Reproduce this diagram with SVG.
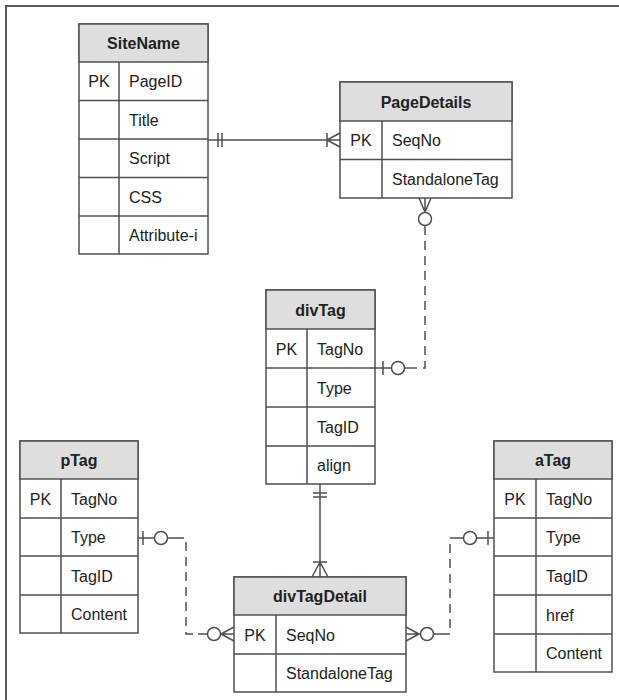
<svg xmlns="http://www.w3.org/2000/svg" width="619" height="700" viewBox="0 0 619 700">
<style>
.box{fill:#fff;stroke:#505050;stroke-width:1.5}
.hdr{fill:#dedede;stroke:#505050;stroke-width:1.5}
.ln{stroke:#505050;stroke-width:1.5;fill:none}
.dash{stroke:#505050;stroke-width:1.5;fill:none;stroke-dasharray:9 6}
.circ{fill:#fff;stroke:#505050;stroke-width:1.5}
.t{font-family:"Liberation Sans",Arial,sans-serif;font-size:16px;fill:#222}
.h{font-family:"Liberation Sans",Arial,sans-serif;font-size:16px;font-weight:bold;fill:#222;text-anchor:middle}
.c{text-anchor:middle}
</style>
<rect width="619" height="700" fill="#fff"/>
<path d="M6,700 V6 H619" fill="none" stroke="#5a5a5a" stroke-width="2"/>

<g id="SiteName">
<rect class="box" x="79" y="24" width="129" height="230"/>
<rect class="hdr" x="79" y="24" width="129" height="38"/>
<path class="ln" d="M79,100.5H208M79,139H208M79,177.5H208M79,216H208M119,62V254"/>
<text class="h" x="143.5" y="49">SiteName</text>
<text class="t c" x="99" y="87">PK</text>
<text class="t" x="129" y="87">PageID</text>
<text class="t" x="129" y="125.5">Title</text>
<text class="t" x="129" y="164">Script</text>
<text class="t" x="129" y="202.5">CSS</text>
<text class="t" x="129" y="241">Attribute-i</text>
</g>

<g id="PageDetails">
<rect class="box" x="340" y="82" width="172" height="116"/>
<rect class="hdr" x="340" y="82" width="172" height="39"/>
<path class="ln" d="M340,159.5H512M382,121V198"/>
<text class="h" x="426" y="107.5">PageDetails</text>
<text class="t c" x="361" y="146">PK</text>
<text class="t" x="392" y="146">SeqNo</text>
<text class="t" x="392" y="184.5">StandaloneTag</text>
</g>

<g id="divTag">
<rect class="box" x="266" y="290" width="109" height="194"/>
<rect class="hdr" x="266" y="290" width="109" height="39"/>
<path class="ln" d="M266,368H375M266,407H375M266,446H375M307,329V484"/>
<text class="h" x="320.5" y="315.5">divTag</text>
<text class="t c" x="286.5" y="354.5">PK</text>
<text class="t" x="317" y="354.5">TagNo</text>
<text class="t" x="317" y="393.5">Type</text>
<text class="t" x="317" y="432.5">TagID</text>
<text class="t" x="317" y="470.5">align</text>
</g>

<g id="pTag">
<rect class="box" x="20" y="441" width="118" height="192"/>
<rect class="hdr" x="20" y="441" width="118" height="38"/>
<path class="ln" d="M20,518H138M20,556H138M20,595H138M61,479V633"/>
<text class="h" x="79" y="466">pTag</text>
<text class="t c" x="40.5" y="504.5">PK</text>
<text class="t" x="71" y="504.5">TagNo</text>
<text class="t" x="71" y="543">Type</text>
<text class="t" x="71" y="581.5">TagID</text>
<text class="t" x="71" y="620">Content</text>
</g>

<g id="aTag">
<rect class="box" x="494" y="441" width="118" height="231"/>
<rect class="hdr" x="494" y="441" width="118" height="38"/>
<path class="ln" d="M494,518H612M494,556H612M494,595H612M494,634H612M536,479V672"/>
<text class="h" x="553" y="466">aTag</text>
<text class="t c" x="515" y="504.5">PK</text>
<text class="t" x="546" y="504.5">TagNo</text>
<text class="t" x="546" y="543">Type</text>
<text class="t" x="546" y="581.5">TagID</text>
<text class="t" x="546" y="620.5">href</text>
<text class="t" x="546" y="659">Content</text>
</g>

<g id="divTagDetail">
<rect class="box" x="234" y="577" width="172" height="115"/>
<rect class="hdr" x="234" y="577" width="172" height="38"/>
<path class="ln" d="M234,654H406M276,615V692"/>
<text class="h" x="320" y="602">divTagDetail</text>
<text class="t c" x="255" y="640.5">PK</text>
<text class="t" x="286" y="640.5">SeqNo</text>
<text class="t" x="286" y="679">StandaloneTag</text>
</g>

<g id="connectors">
<path class="ln" d="M208,140H340M218,133V147M222,133V147M327,133V147M327,140L340,133M327,140L340,147"/>
<path class="ln" d="M425,198V212M425,212L419,198M425,212L431,198"/>
<circle class="circ" cx="425" cy="219" r="6.5"/>
<path class="dash" d="M425,226V368H412"/>
<path class="ln" d="M375,368H391M383,361V375M405,368H412"/>
<circle class="circ" cx="398" cy="368" r="6.5"/>
<path class="ln" d="M320,484V577M313,493H327M313,497H327M313,562H327M320,562L312,577M320,562L328,577"/>
<path class="ln" d="M138,538H154M143,531V545M168,538H175"/>
<circle class="circ" cx="161" cy="538" r="6.5"/>
<path class="dash" d="M175,538H186V634H198"/>
<path class="ln" d="M198,634H207M221,634H234M221,634L234,627M221,634L234,641"/>
<circle class="circ" cx="214" cy="634" r="6.5"/>
<path class="ln" d="M406,634H420M419,634L406,627M419,634L406,641M434,634H441"/>
<circle class="circ" cx="427" cy="634" r="6.5"/>
<path class="dash" d="M441,634H450V538H457"/>
<path class="ln" d="M457,538H463M477,538H494M488,531V545"/>
<circle class="circ" cx="470" cy="538" r="6.5"/>
</g>
</svg>
